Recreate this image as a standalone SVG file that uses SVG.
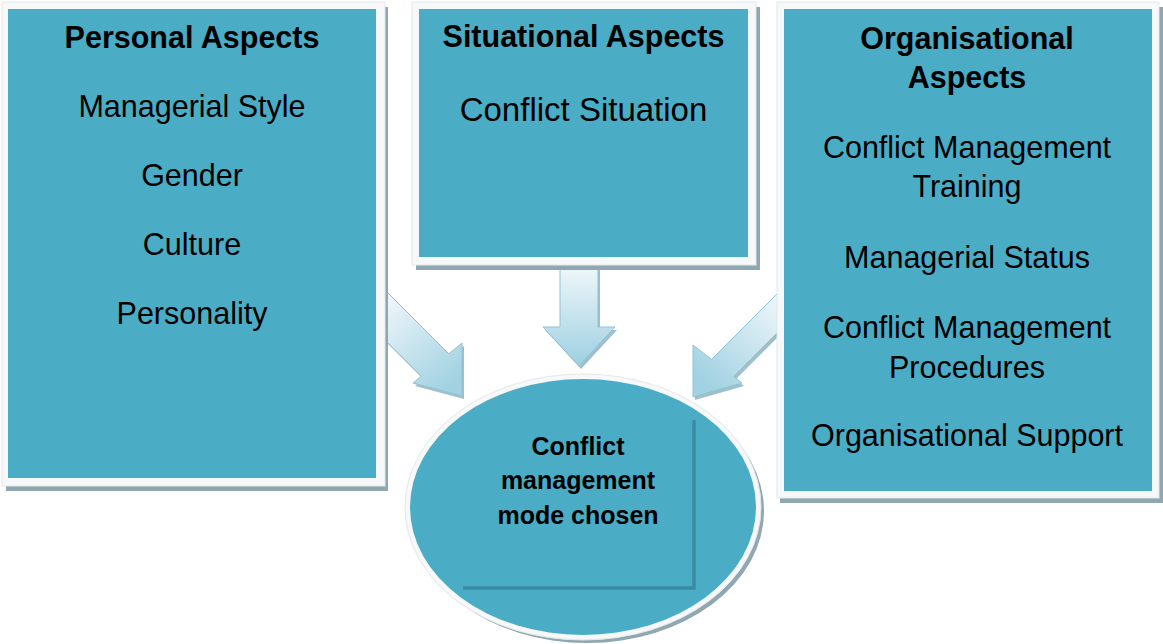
<svg xmlns="http://www.w3.org/2000/svg" width="1163" height="644" viewBox="0 0 1163 644">
<defs>
<style>
.frame{fill:#f6f8f9;stroke:#e3e8ea;stroke-width:1}
.shadow{fill:#8fa7b0}
.panel{fill:#4bacc6}
.t{font-family:"Liberation Sans",Arial,sans-serif;font-size:30.5px;fill:#000;text-anchor:middle}
.b{font-weight:bold}
.e{font-size:25px}
.ashadow{fill:#7fa9b8;opacity:0.75}
.arrow{stroke:#8fc3d4;stroke-width:1}
.bracket{fill:none;stroke:#3b8ba4;stroke-width:3.5}
</style>
<linearGradient id="gL" gradientUnits="userSpaceOnUse" x1="385" y1="300" x2="455" y2="380">
<stop offset="0" stop-color="#eef6fa"/><stop offset="1" stop-color="#a2d2e2"/>
</linearGradient>
<linearGradient id="gR" gradientUnits="userSpaceOnUse" x1="780" y1="300" x2="705" y2="380">
<stop offset="0" stop-color="#eef6fa"/><stop offset="1" stop-color="#a2d2e2"/>
</linearGradient>
<linearGradient id="gM" gradientUnits="userSpaceOnUse" x1="0" y1="268" x2="0" y2="360">
<stop offset="0" stop-color="#eef6fa"/><stop offset="1" stop-color="#a2d2e2"/>
</linearGradient>
</defs>
<rect width="1163" height="644" fill="#ffffff"/>

<g id="connectors">
<polygon class="ashadow" transform="translate(2,3)" points="370,275 448.8,353.8 462,343 462,396 413,383 421.3,376.2 370,325"/>
<polygon class="arrow" fill="url(#gL)" points="370,275 448.8,353.8 462,343 462,396 413,383 421.3,376.2 370,325"/>
<polygon class="ashadow" transform="translate(2,3)" points="560,262 598,262 598,327 615,327 579,366 543,327 560,327"/>
<polygon class="arrow" fill="url(#gM)" points="560,262 598,262 598,327 615,327 579,366 543,327 560,327"/>
<polygon class="ashadow" transform="translate(2,3)" points="790,281 711.6,359.4 693,345 693,397 742,383 733.6,376.5 790,320"/>
<polygon class="arrow" fill="url(#gR)" points="790,281 711.6,359.4 693,345 693,397 742,383 733.6,376.5 790,320"/>
</g>

<g id="personal">
<rect class="shadow" x="6" y="7" width="382" height="484"/>
<rect class="frame" x="2" y="2" width="383" height="484"/>
<rect class="panel" x="8" y="9" width="368" height="469"/>
<text class="t b" x="192" y="48">Personal Aspects</text>
<text class="t" x="192" y="117">Managerial Style</text>
<text class="t" x="192" y="186">Gender</text>
<text class="t" x="192" y="255">Culture</text>
<text class="t" x="192" y="324">Personality</text>
</g>

<g id="situational">
<rect class="shadow" x="416" y="7" width="344" height="263"/>
<rect class="frame" x="412" y="2" width="344" height="263"/>
<rect class="panel" x="419" y="9" width="329" height="248"/>
<text class="t b" x="583.5" y="47">Situational Aspects</text>
<text class="t" x="583.5" y="121" style="font-size:33px">Conflict Situation</text>
</g>

<g id="organisational">
<rect class="shadow" x="780" y="7" width="383" height="496"/>
<rect class="frame" x="777" y="2" width="382" height="496"/>
<rect class="panel" x="784" y="9" width="368" height="482"/>
<text class="t b" x="967" y="49">Organisational</text>
<text class="t b" x="967" y="88">Aspects</text>
<text class="t" x="967" y="158">Conflict Management</text>
<text class="t" x="967" y="197">Training</text>
<text class="t" x="967" y="268">Managerial Status</text>
<text class="t" x="967" y="338">Conflict Management</text>
<text class="t" x="967" y="378">Procedures</text>
<text class="t" x="967" y="446">Organisational Support</text>
</g>

<g id="mode">
<ellipse class="shadow" cx="587" cy="511" rx="177" ry="132"/>
<ellipse class="frame" cx="583" cy="507" rx="178" ry="133"/>
<ellipse class="panel" cx="583" cy="507" rx="173" ry="128"/>
<path class="bracket" d="M694,420 V588 H463"/>
<text class="t b e" x="578" y="455">Conflict</text>
<text class="t b e" x="578" y="489">management</text>
<text class="t b e" x="578" y="524">mode chosen</text>
</g>
</svg>
